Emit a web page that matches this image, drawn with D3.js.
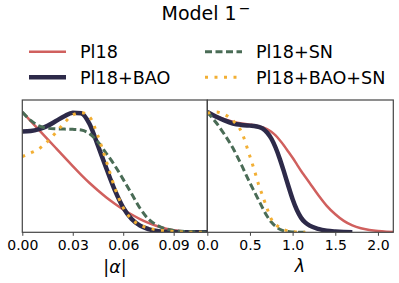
<!DOCTYPE html>
<html><head><meta charset="utf-8">
<script src="https://cdn.jsdelivr.net/npm/d3@7/dist/d3.min.js"></script>
<style>body{margin:0;background:#fff}svg{display:block}text{font-family:"DejaVu Sans",sans-serif;fill:#000}</style>
</head><body><svg id="c" width="399" height="283"></svg>
<script>
// ---- data ----
const seriesNames = ["Pl18", "Pl18+BAO", "Pl18+SN", "Pl18+BAO+SN"];
const alphaGrid = [0,0.005,0.01,0.015,0.02,0.025,0.03,0.035,0.04,0.045,0.05,0.055,0.06,0.065,0.07,0.075,0.08,0.085,0.09,0.095,0.1,0.105,0.11];
const alphaPl18 = [1.0,0.925,0.85,0.775,0.70,0.625,0.55,0.478,0.41,0.348,0.29,0.238,0.19,0.148,0.11,0.078,0.052,0.032,0.018,0.009,0.004,0.002,0.001];
const alphaBAO = [0.838,0.842,0.858,0.885,0.925,0.965,0.995,0.99,0.9,0.72,0.53,0.35,0.205,0.11,0.055,0.027,0.012,0.005,0.002,0.001,0,0,0];
const alphaSN = [1.0,0.93,0.885,0.865,0.86,0.858,0.856,0.85,0.82,0.75,0.655,0.555,0.44,0.32,0.2,0.11,0.06,0.03,0.015,0.008,0.004,0.002,0.001];
const alphaBAOSN = [0.63,0.66,0.695,0.755,0.83,0.91,0.975,0.995,0.96,0.8,0.59,0.37,0.205,0.11,0.06,0.035,0.02,0.012,0.006,0.003,0.001,0,0];
const lambdaGrid = [0,0.1,0.2,0.3,0.4,0.5,0.55,0.6,0.65,0.7,0.75,0.8,0.85,0.9,0.95,1.0,1.05,1.1,1.15,1.2,1.3,1.4,1.5,1.6,1.7,1.8,1.9,2.0,2.1,2.2];
const lambdaPl18 = [1.0,0.965,0.94,0.92,0.905,0.895,0.89,0.882,0.872,0.858,0.835,0.805,0.765,0.72,0.67,0.62,0.565,0.51,0.46,0.41,0.31,0.22,0.15,0.095,0.057,0.033,0.019,0.01,0.005,0.003];
const lambdaBAO = [1.0,0.962,0.93,0.905,0.893,0.887,0.884,0.877,0.862,0.83,0.78,0.705,0.61,0.5,0.385,0.275,0.185,0.12,0.08,0.055,0.028,0.013,0.006,0.002,0.0005];
const lambdaSN = [1.0,0.915,0.815,0.7,0.56,0.41,0.34,0.27,0.2,0.135,0.085,0.05,0.025,0.012,0.006,0.003,0.001,0,0];
const lambdaBAOSN = [0.99,1.0,0.98,0.93,0.835,0.63,0.52,0.4,0.3,0.2,0.11,0.065,0.04,0.022,0.012,0.006,0.003,0.001,0];
const alphaTicks = [0, 0.03, 0.06, 0.09];
const lambdaTicks = [0, 0.5, 1.0, 1.5, 2.0];

// ---- styles ----
const styles = [
  {color:"#D0605E", width:2.5, dash:null},
  {color:"#2D2A49", width:4.5, dash:null},
  {color:"#4A6C56", width:3, dash:"7,3.5"},
  {color:"#F2AF34", width:3, dash:"3,6.5"}
];

const svg = d3.select("#c");
const plotTop = 100, plotBottom = 232.3;
const y = d3.scaleLinear().domain([0, 1.1]).range([plotBottom, plotTop]);

function panel(id, x0, x1, domain, grid, series, ticks, fmt) {
  const x = d3.scaleLinear().domain(domain).range([x0, x1]);
  svg.append("clipPath").attr("id", id).append("rect")
    .attr("x", x0).attr("y", plotTop).attr("width", x1 - x0).attr("height", plotBottom - plotTop);
  const g = svg.append("g").attr("clip-path", `url(#${id})`);
  series.forEach((vals, i) => {
    const pts = vals.map((v, j) => [grid[j], v]);
    const line = d3.line().x(d => x(d[0])).y(d => y(d[1])).curve(d3.curveMonotoneX);
    const s = styles[i];
    const p = g.append("path").attr("d", line(pts)).attr("fill", "none")
      .attr("stroke", s.color).attr("stroke-width", s.width);
    if (s.dash) p.attr("stroke-dasharray", s.dash);
  });
  svg.append("rect").attr("x", x0).attr("y", plotTop).attr("width", x1 - x0).attr("height", plotBottom - plotTop)
    .attr("fill", "none").attr("stroke", "#444").attr("stroke-width", 1.2);
  const ax = svg.append("g").attr("transform", `translate(0,${plotBottom})`)
    .call(d3.axisBottom(x).tickValues(ticks).tickFormat(fmt).tickSize(3.5).tickPadding(4));
  ax.select(".domain").remove();
  ax.selectAll(".tick line").attr("stroke", "#444");
  ax.selectAll(".tick text").attr("font-size", "14px").attr("font-family", "DejaVu Sans").attr("fill", "#000");
  return x;
}

panel("cl", 22.3, 207.3, [0, 0.11], alphaGrid, [alphaPl18, alphaBAO, alphaSN, alphaBAOSN], alphaTicks, d3.format(".2f"));
panel("cr", 207.3, 393.3, [0, 2.18], lambdaGrid, [lambdaPl18, lambdaBAO, lambdaSN, lambdaBAOSN], lambdaTicks, d3.format(".1f"));

// axis labels
const la = svg.append("text").attr("x", 115).attr("y", 273).attr("text-anchor", "middle").attr("font-size", "17.5px");
la.append("tspan").text("|");
la.append("tspan").attr("font-style", "italic").text("α");
la.append("tspan").text("|");
svg.append("text").attr("x", 300).attr("y", 272).attr("text-anchor", "middle").attr("font-size", "17.5px")
  .attr("font-style", "italic").text("λ");

// title
const t = svg.append("text").attr("x", 206).attr("y", 20).attr("text-anchor", "middle").attr("font-size", "19px");
t.append("tspan").text("Model 1");
t.append("tspan").attr("font-size", "14px").attr("dy", "-7").attr("dx", "2").text("−");

// legend
const legendPos = [[29, 51.7], [29, 77.3], [205, 51.7], [205, 77.3]];
seriesNames.forEach((name, i) => {
  const [lx, ly] = legendPos[i];
  const s = styles[i];
  const l = svg.append("line").attr("x1", lx).attr("x2", lx + 37).attr("y1", ly).attr("y2", ly)
    .attr("stroke", s.color).attr("stroke-width", s.width);
  if (s.dash) l.attr("stroke-dasharray", s.dash);
  svg.append("text").attr("x", lx + 51).attr("y", ly + 6.2).attr("font-size", "17.6px").text(name);
});
</script></body></html>
